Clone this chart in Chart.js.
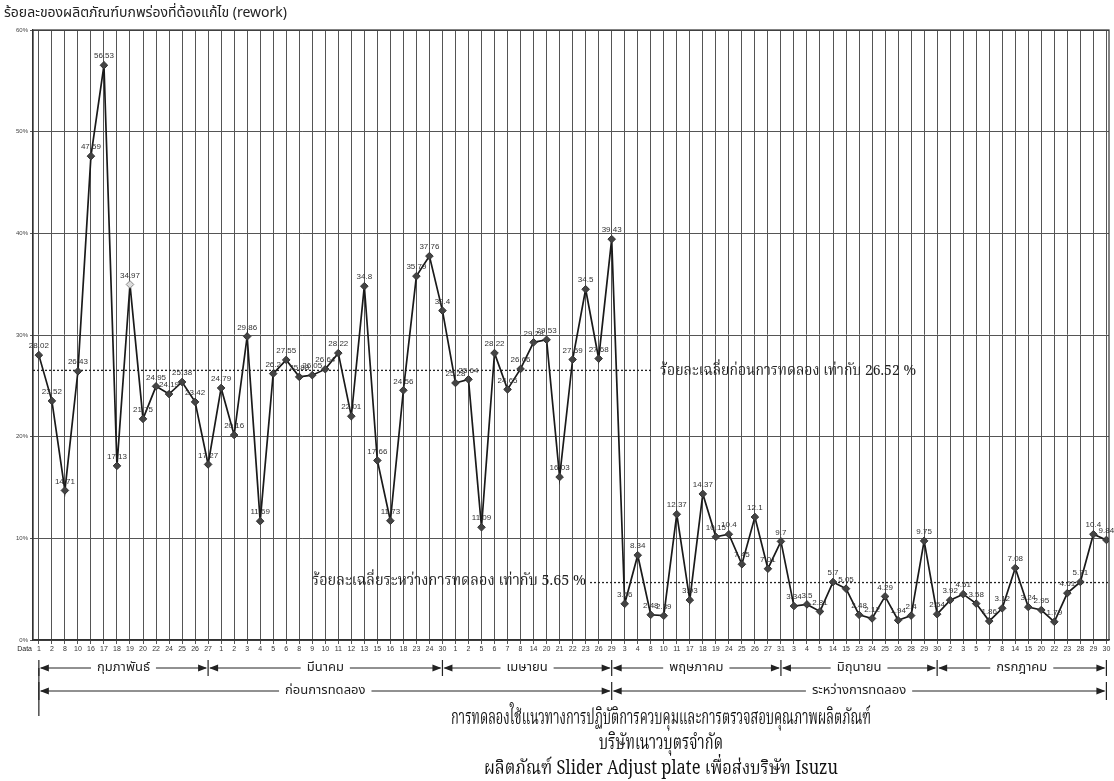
<!DOCTYPE html>
<html>
<head>
<meta charset="utf-8">
<script src="https://cdn.jsdelivr.net/npm/chart.js@4/dist/chart.umd.min.js"></script>
<style>
  html, body { margin: 0; padding: 0; background: #fff; }
</style>
</head>
<body>
<canvas id="reworkChart" width="1114" height="781"></canvas>
<script>
// days sampled in each month
const febDays = [1, 2, 8, 10, 16, 17, 18, 19, 20, 22, 24, 25, 26, 27];
const marDays = [1, 2, 3, 4, 5, 6, 8, 9, 10, 11, 12, 13, 15, 16, 18, 23, 24, 30];
const aprDays = [1, 2, 5, 6, 7, 8, 14, 20, 21, 22, 23, 26, 29];
const mayDays = [3, 4, 8, 10, 11, 17, 18, 19, 24, 25, 26, 27, 31];
const junDays = [3, 4, 5, 14, 15, 23, 24, 25, 26, 28, 29, 30];
const julDays = [2, 3, 5, 7, 8, 14, 15, 20, 22, 23, 28, 29, 30];

// % rework
const febValues = [28.02, 23.52, 14.71, 26.43, 47.59, 56.53, 17.13, 34.97, 21.75, 24.95, 24.19, 25.38, 23.42, 17.27];
const marValues = [24.79, 20.16, 29.86, 11.69, 26.2, 27.55, 25.88, 26.05, 26.64, 28.22, 22.01, 34.8, 17.66, 11.73, 24.56, 35.79, 37.76, 32.4];
const aprValues = [25.28, 25.64, 11.09, 28.22, 24.65, 26.66, 29.28, 29.53, 16.03, 27.59, 34.5, 27.68, 39.43];
const mayValues = [3.56, 8.34, 2.48, 2.39, 12.37, 3.93, 14.37, 10.15, 10.4, 7.45, 12.1, 7.01, 9.7];
const junValues = [3.34, 3.5, 2.81, 5.7, 5.05, 2.48, 2.12, 4.29, 1.94, 2.4, 9.75, 2.54];
const julValues = [3.92, 4.51, 3.58, 1.86, 3.12, 7.08, 3.24, 2.95, 1.79, 4.61, 5.71, 10.4, 9.84];

const monthNames = ["กุมภาพันธ์", "มีนาคม", "เมษายน", "พฤษภาคม", "มิถุนายน", "กรกฎาคม"];
const phaseNames = ["ก่อนการทดลอง", "ระหว่างการทดลอง"];
const avgBefore = 26.52;
const avgDuring = 5.65;
const yTicks = [0, 10, 20, 30, 40, 50, 60];

const monthDays = [febDays, marDays, aprDays, mayDays, junDays, julDays];
const labels = [].concat(...monthDays).map(String);
const values = [].concat(febValues, marValues, aprValues, mayValues, junValues, julValues);

// last index of each month
const monthEnds = [];
let n = 0;
monthDays.forEach((d) => { n += d.length; monthEnds.push(n - 1); });

const thaiFont = "'Noto Sans Thai', 'Noto Serif Thai', 'Loma', 'Garuda', 'Noto Sans', sans-serif";
const thaiSerif = "'Noto Serif Thai', 'Noto Sans Thai', 'Norasi', 'Liberation Serif', serif";

const extras = {
  id: "extras",
  beforeDatasetsDraw(chart) {
    const { ctx, chartArea: a, scales: { x, y } } = chart;
    ctx.save();
    // frame top + right
    ctx.strokeStyle = "#333";
    ctx.lineWidth = 1.2;
    ctx.strokeRect(a.left, a.top, a.right - a.left, a.bottom - a.top);

    // average lines
    ctx.setLineDash([2, 2]);
    ctx.strokeStyle = "#222";
    ctx.lineWidth = 1.3;
    let yb = y.getPixelForValue(avgBefore);
    ctx.beginPath(); ctx.moveTo(a.left, yb); ctx.lineTo(652, yb); ctx.stroke();
    let yd = y.getPixelForValue(avgDuring);
    ctx.beginPath(); ctx.moveTo(590, yd); ctx.lineTo(a.right, yd); ctx.stroke();
    ctx.setLineDash([]);

    ctx.fillStyle = "#222";
    ctx.font = "15px " + thaiSerif;
    ctx.textBaseline = "middle";
    ctx.textAlign = "left";
    ctx.fillText("ร้อยละเฉลี่ยก่อนการทดลอง เท่ากับ " + avgBefore + " %", 660, yb + 2, 256);
    ctx.fillText("ร้อยละเฉลี่ยระหว่างการทดลอง เท่ากับ " + avgDuring + " %", 312, yd, 274);
    ctx.restore();
  },
  afterDatasetsDraw(chart) {
    const { ctx, chartArea: a, scales: { x, y } } = chart;
    const meta = chart.getDatasetMeta(0);
    ctx.save();
    // value labels
    ctx.fillStyle = "#333";
    ctx.font = "8px Arial, 'Liberation Sans', sans-serif";
    ctx.textAlign = "center";
    ctx.textBaseline = "bottom";
    meta.data.forEach((pt, i) => {
      ctx.fillText(String(values[i]), pt.x, pt.y - 5);
    });

    // title
    ctx.font = "14px " + thaiFont;
    ctx.textAlign = "left";
    ctx.textBaseline = "middle";
    ctx.fillStyle = "#222";
    ctx.fillText("ร้อยละของผลิตภัณฑ์บกพร่องที่ต้องแก้ไข (rework)", 4, 14, 283);

    // "Data" before first tick
    ctx.font = "7px Arial, 'Liberation Sans', sans-serif";
    ctx.textAlign = "right";
    ctx.fillText("Data", 32, 649);

    // month and phase spans
    const px = (i) => x.getPixelForValue(i);
    const arrowSpan = (x1, x2, yy, text) => {
      ctx.font = "13px " + thaiFont;
      const w = ctx.measureText(text).width;
      const cx = (x1 + x2) / 2;
      ctx.strokeStyle = "#222";
      ctx.lineWidth = 1;
      ctx.beginPath();
      ctx.moveTo(x1 + 2, yy); ctx.lineTo(cx - w / 2 - 6, yy);
      ctx.moveTo(cx + w / 2 + 6, yy); ctx.lineTo(x2 - 2, yy);
      ctx.stroke();
      ctx.fillStyle = "#222";
      ctx.beginPath();
      ctx.moveTo(x1 + 1, yy); ctx.lineTo(x1 + 10, yy - 3.5); ctx.lineTo(x1 + 10, yy + 3.5); ctx.closePath();
      ctx.moveTo(x2 - 1, yy); ctx.lineTo(x2 - 10, yy - 3.5); ctx.lineTo(x2 - 10, yy + 3.5); ctx.closePath();
      ctx.fill();
      ctx.textAlign = "center";
      ctx.textBaseline = "middle";
      ctx.fillText(text, cx, yy);
    };
    const rowM = 668, rowP = 691;
    const bounds = [0].concat(monthEnds);
    ctx.strokeStyle = "#222";
    ctx.lineWidth = 1.2;
    bounds.forEach((b) => {
      ctx.beginPath(); ctx.moveTo(px(b), rowM - 8); ctx.lineTo(px(b), rowM + 8); ctx.stroke();
    });
    const phaseBounds = [0, monthEnds[2], monthEnds[5]];
    phaseBounds.forEach((b) => {
      ctx.beginPath(); ctx.moveTo(px(b), rowP - 9); ctx.lineTo(px(b), rowP + 9); ctx.stroke();
    });
    ctx.beginPath(); ctx.moveTo(px(0), rowM); ctx.lineTo(px(0), 716); ctx.stroke();
    for (let m = 0; m < monthNames.length; m++) {
      arrowSpan(px(bounds[m]), px(bounds[m + 1]), rowM, monthNames[m]);
    }
    arrowSpan(px(0), px(monthEnds[2]), rowP, phaseNames[0]);
    arrowSpan(px(monthEnds[2]), px(monthEnds[5]), rowP, phaseNames[1]);

    // bottom caption (condensed like the original)
    ctx.fillStyle = "#111";
    ctx.textAlign = "center";
    ctx.textBaseline = "middle";
    ctx.font = "21px " + thaiSerif;
    ctx.fillText("การทดลองใช้แนวทางการปฏิบัติการควบคุมและการตรวจสอบคุณภาพผลิตภัณฑ์", 661, 721, 420);
    ctx.fillText("บริษัทเนาวบุตรจำกัด", 661, 746, 124);
    ctx.font = "19px " + thaiSerif;
    ctx.fillText("ผลิตภัณฑ์ Slider Adjust plate เพื่อส่งบริษัท Isuzu", 661, 771, 354);
    ctx.restore();
  }
};

new Chart(document.getElementById("reworkChart"), {
  type: "line",
  data: {
    labels: labels,
    datasets: [{
      data: values.map((v, i) => ({ x: i, y: v })),
      borderColor: "#1a1a1a",
      borderWidth: 1.7,
      tension: 0,
      pointStyle: "rectRot",
      pointRadius: 3.8,
      pointBackgroundColor: (c) => (c.dataIndex === 7 ? "#ddd" : "#444"),
      pointBorderColor: (c) => (c.dataIndex === 7 ? "#888" : "#333"),
      pointBorderWidth: 1,
    }],
  },
  options: {
    responsive: false,
    animation: false,
    devicePixelRatio: 1,
    layout: { padding: { top: 30, right: 4, bottom: 121, left: 0 } },
    plugins: { legend: { display: false }, tooltip: { enabled: false }, title: { display: false } },
    scales: {
      x: {
        type: "linear",
        min: -0.45,
        max: labels.length - 1 + 0.2,
        afterBuildTicks: (s) => { s.ticks = labels.map((_, i) => ({ value: i })); },
        afterFit: (s) => { s.height = 20; },
        ticks: {
          autoSkip: false,
          maxRotation: 0,
          padding: 1,
          color: "#333",
          font: { size: 7, family: "Arial, 'Liberation Sans', sans-serif" },
          callback: (v) => labels[v],
        },
        grid: { color: "#555", lineWidth: 1, tickLength: 4 },
        border: { color: "#333", width: 1.2 },
      },
      y: {
        min: 0,
        max: 60,
        afterBuildTicks: (s) => { s.ticks = yTicks.map((v) => ({ value: v })); },
        afterFit: (s) => { s.width = 33; },
        ticks: {
          color: "#444",
          padding: 2,
          font: { size: 6, family: "Arial, 'Liberation Sans', sans-serif" },
          callback: (v) => v + "%",
        },
        grid: { color: "#555", lineWidth: 1, tickLength: 3 },
        border: { color: "#333", width: 1.2 },
      },
    },
  },
  plugins: [extras],
});
</script>
</body>
</html>
